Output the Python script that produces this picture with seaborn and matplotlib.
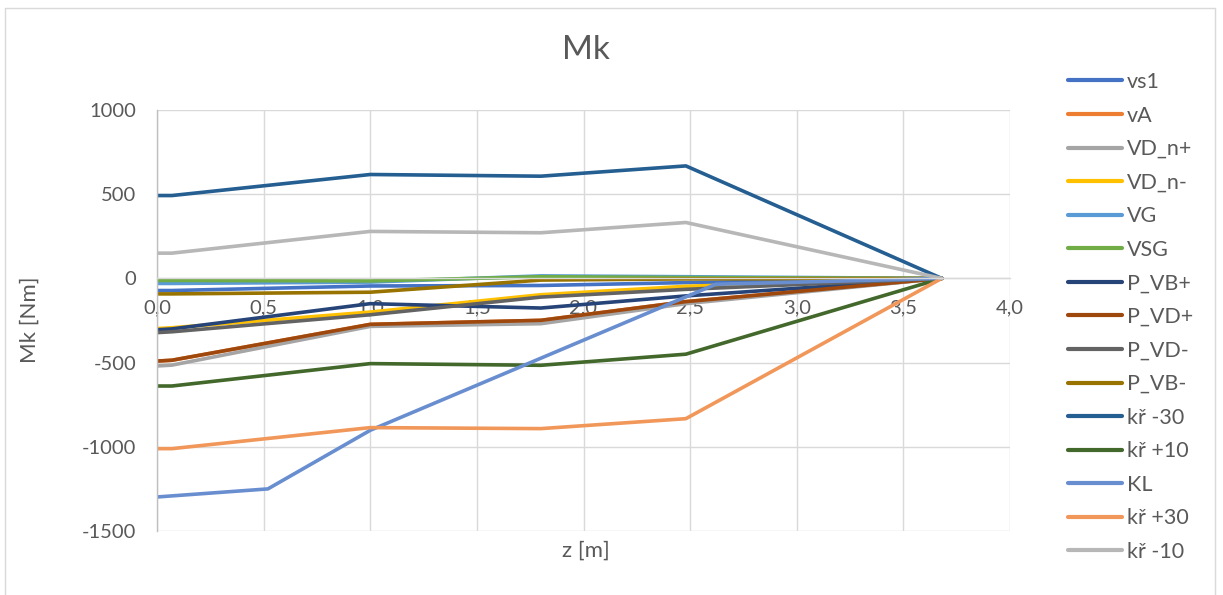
import numpy as np
import pandas as pd
import matplotlib
matplotlib.use("Agg")
import matplotlib.pyplot as plt
from matplotlib.lines import Line2D
from matplotlib.ticker import FuncFormatter, MultipleLocator
import seaborn as sns

# Stations along the shaft [m]
z = [0.0, 0.07, 1.0, 1.8, 2.48, 3.68]
z_kl = [0.0, 0.52, 1.0, 2.62, 3.68]

# Torque Mk [Nm] per load case
vs1 = [-72, -72, -45, -42, -25, 0]
vA = [-491, -486, -273, -249, -138, 0]
VD_n_plus = [-520, -515, -285, -269, -150, 0]
VD_n_minus = [-298, -293, -200, -97, -47, 0]
VG = [-30, -30, -22, 15, 10, 0]
VSG = [-12, -12, -15, 10, 5, 0]
P_VB_plus = [-305, -300, -150, -176, -104, 0]
P_VD_plus = [-491, -486, -273, -249, -138, 0]
P_VD_minus = [-322, -317, -216, -111, -65, 0]
P_VB_minus = [-92, -92, -82, -10, -3, 0]
kr_m30 = [492, 492, 617, 607, 668, 0]
kr_p10 = [-639, -639, -506, -516, -450, 0]
KL = [-1298, -1250, -902, -35, 0]
kr_p30 = [-1011, -1011, -886, -892, -833, 0]
kr_m10 = [150, 150, 279, 271, 332, 0]

series = [
    ("vs1", z, vs1, "#4472C4"),
    ("vA", z, vA, "#ED7D31"),
    ("VD_n+", z, VD_n_plus, "#A5A5A5"),
    ("VD_n-", z, VD_n_minus, "#FFC000"),
    ("VG", z, VG, "#5B9BD5"),
    ("VSG", z, VSG, "#70AD47"),
    ("P_VB+", z, P_VB_plus, "#264478"),
    ("P_VD+", z, P_VD_plus, "#9E480E"),
    ("P_VD-", z, P_VD_minus, "#636363"),
    ("P_VB-", z, P_VB_minus, "#997300"),
    ("kř -30", z, kr_m30, "#255E91"),
    ("kř +10", z, kr_p10, "#43682B"),
    ("KL", z_kl, KL, "#698ED0"),
    ("kř +30", z, kr_p30, "#F1975A"),
    ("kř -10", z, kr_m10, "#B7B7B7"),
]

rows = []
for name, xs, ys, _ in series:
    for x, y in zip(xs, ys):
        rows.append({"series": name, "z": x, "Mk": y})
df = pd.DataFrame(rows)
order = [s[0] for s in series]
palette = {s[0]: s[3] for s in series}

sns.set_theme(style="white")
plt.rcParams["font.family"] = ["Lato", "DejaVu Sans"]
text_col = "#595959"

W, H = 1223, 595
fig = plt.figure(figsize=(W / 100, H / 100), dpi=100)
ax = fig.add_axes([157 / W, (H - 531) / H, (1010 - 157) / W, (531 - 110) / H])

sns.lineplot(data=df, x="z", y="Mk", hue="series", hue_order=order,
             palette=palette, sort=False, estimator=None, units="series",
             linewidth=2.6, legend=False, ax=ax,
             solid_joinstyle="round", solid_capstyle="round")

ax.set_xlim(0, 4)
ax.set_ylim(-1500, 1000)
ax.xaxis.set_major_locator(MultipleLocator(0.5))
ax.yaxis.set_major_locator(MultipleLocator(500))
ax.xaxis.set_major_formatter(FuncFormatter(lambda v, p: f"{v:.1f}".replace(".", ",")))
ax.yaxis.set_major_formatter(FuncFormatter(lambda v, p: f"{v:.0f}"))
ax.grid(True, color="#D9D9D9", linewidth=1.0)
ax.set_axisbelow(True)

for side in ("top", "right"):
    ax.spines[side].set_visible(False)
ax.spines["left"].set_color("#BFBFBF")
ax.spines["left"].set_linewidth(1.0)
ax.spines["bottom"].set_position(("data", 0))
ax.spines["bottom"].set_color("#D9D9D9")
ax.spines["bottom"].set_linewidth(1.0)
ax.tick_params(axis="x", length=0, pad=15, labelsize=14.5, labelcolor=text_col)
ax.tick_params(axis="y", length=0, pad=15, labelsize=14.5, labelcolor=text_col)
ax.set_xlabel("")
ax.set_ylabel("")

fig.text(586 / W, 1 - 50 / H, "Mk", ha="center", va="center", fontsize=24, color=text_col)
fig.text(586 / W, 1 - 551 / H, "z [m]", ha="center", va="center", fontsize=16, color=text_col)
fig.text(30 / W, 1 - 320 / H, "Mk [Nm]", ha="center", va="center", rotation=90,
         fontsize=16, color=text_col)

handles = [Line2D([], [], color=c, linewidth=3.0, solid_capstyle="round") for _, _, _, c in series]
leg = fig.legend(handles, order, loc="upper left", bbox_to_anchor=(1068 / W, 1 - 72 / H),
                 frameon=False, fontsize=15.5, handlelength=2.5, handletextpad=0.25,
                 labelspacing=0.63, borderaxespad=0, borderpad=0)
for t in leg.get_texts():
    t.set_color(text_col)

# chart area frame
for xs, ys in (([5, 5], [8, H + 5]), ([5, 1215], [8, 8]), ([1215, 1215], [8, H + 5])):
    fig.add_artist(Line2D([x / W for x in xs], [1 - y / H for y in ys],
                          color="#D9D9D9", linewidth=1.0))

fig.savefig("out.png", dpi=100, facecolor="white")
